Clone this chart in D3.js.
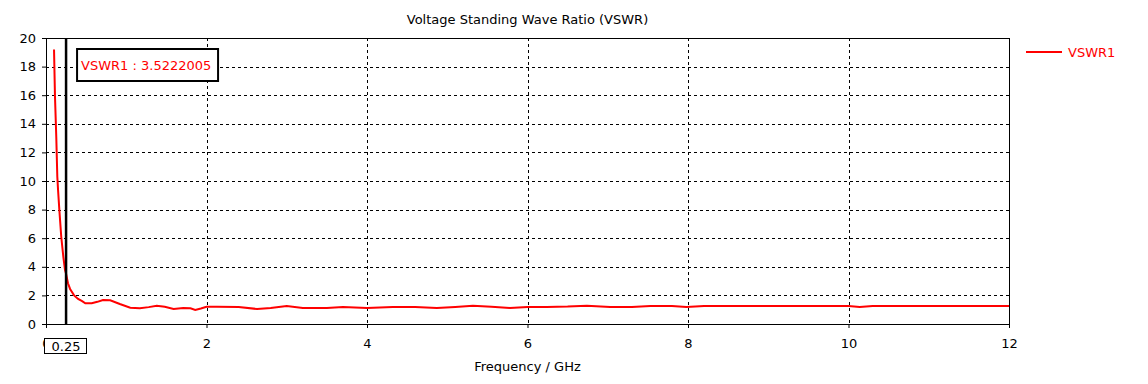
<!DOCTYPE html>
<html lang="en">
<head>
<meta charset="UTF-8">
<title>VSWR</title>
<script src="https://d3js.org/d3.v7.min.js"></script>
<style>
    body { margin: 0; background: #fff; font-family: "DejaVu Sans", sans-serif; }
    svg text { font-family: "DejaVu Sans", sans-serif; }
</style>
</head>
<body>
<div id="chart"></div>
<script>
// data
var freq = [0.1, 0.112, 0.128, 0.141, 0.15, 0.166, 0.19, 0.216, 0.237, 0.25, 0.274, 0.30, 0.35, 0.40, 0.45, 0.49, 0.57,
            0.64, 0.71, 0.80, 0.92, 1.05, 1.17, 1.28, 1.38, 1.48, 1.59, 1.71, 1.80, 1.86, 1.93, 2.0, 2.13, 2.4, 2.63,
            2.8, 3.0, 3.2, 3.5, 3.7, 4.0, 4.32, 4.6, 4.87, 5.1, 5.32, 5.55, 5.78, 6.0, 6.24, 6.5, 6.74, 7.03, 7.3,
            7.53, 7.8, 7.98, 8.2, 8.6, 9.0, 9.27, 9.7, 10.0, 10.14, 10.3, 10.6, 10.93, 11.3, 11.6, 12.0];
var vswr = [19.2, 15.9, 13.1, 10.3, 9.4, 8.0, 6.1, 4.7, 3.78, 3.5222005, 2.85, 2.45, 2.0, 1.75, 1.6, 1.45, 1.45,
            1.55, 1.68, 1.66, 1.40, 1.14, 1.10, 1.18, 1.28, 1.20, 1.05, 1.12, 1.10, 0.98, 1.08, 1.21, 1.21, 1.19, 1.05,
            1.12, 1.26, 1.12, 1.12, 1.19, 1.12, 1.19, 1.19, 1.12, 1.19, 1.28, 1.20, 1.12, 1.19, 1.19, 1.22, 1.28, 1.19, 1.19,
            1.26, 1.26, 1.19, 1.26, 1.26, 1.26, 1.26, 1.26, 1.26, 1.19, 1.26, 1.26, 1.26, 1.26, 1.26, 1.26];
var xTicks = [0, 2, 4, 6, 8, 10, 12];
var yTicks = [0, 2, 4, 6, 8, 10, 12, 14, 16, 18, 20];
var markerFreq = 0.25;
var markerLabel = "VSWR1 : 3.5222005";
var seriesName = "VSWR1";

var W = 1148, H = 384;
var margin = {top: 38, right: 139, bottom: 60, left: 46};
var width = W - margin.left - margin.right,
    height = H - margin.top - margin.bottom;

var svg = d3.select("#chart").append("svg")
    .attr("width", W).attr("height", H);

var g = svg.append("g")
    .attr("transform", "translate(" + margin.left + "," + margin.top + ")");

var x = d3.scaleLinear().domain([0, 12]).range([0, width]);
var y = d3.scaleLinear().domain([0, 20]).range([height, 0]);

// grid
g.append("g").selectAll("line").data(xTicks.slice(1, -1)).enter().append("line")
    .attr("x1", function(d) { return Math.round(x(d)) + 0.5; })
    .attr("x2", function(d) { return Math.round(x(d)) + 0.5; })
    .attr("y1", 0).attr("y2", height)
    .attr("stroke", "#000").attr("stroke-dasharray", "3,3");
g.append("g").selectAll("line").data(yTicks.slice(1, -1)).enter().append("line")
    .attr("y1", function(d) { return Math.round(y(d)) + 0.5; })
    .attr("y2", function(d) { return Math.round(y(d)) + 0.5; })
    .attr("x1", 0).attr("x2", width)
    .attr("stroke", "#000").attr("stroke-dasharray", "3,3");

// axes
var xAxis = g.append("g")
    .attr("transform", "translate(0," + height + ")")
    .call(d3.axisBottom(x).tickValues(xTicks).tickSize(4).tickPadding(11).tickFormat(d3.format("d")));
var yAxis = g.append("g")
    .call(d3.axisLeft(y).tickValues(yTicks).tickSize(4).tickPadding(6).tickFormat(d3.format("d")));
[xAxis, yAxis].forEach(function(a) {
    a.select(".domain").remove();
    a.selectAll("text").style("font-size", "13px").attr("fill", "#000");
    a.selectAll("line").attr("stroke", "#000");
});

// frame
g.append("rect")
    .attr("x", 0.5).attr("y", 0.5)
    .attr("width", width).attr("height", height)
    .attr("fill", "none").attr("stroke", "#000");

// curve
var line = d3.line()
    .x(function(d) { return x(d[0]); })
    .y(function(d) { return y(d[1]); });
g.append("path")
    .datum(freq.map(function(f, i) { return [f, vswr[i]]; }))
    .attr("d", line)
    .attr("fill", "none")
    .attr("stroke", "#ff0000")
    .attr("stroke-width", 2);

// marker
g.append("line")
    .attr("x1", x(markerFreq)).attr("x2", x(markerFreq))
    .attr("y1", 0).attr("y2", height)
    .attr("stroke", "#000").attr("stroke-width", 2.5);

var mx = x(markerFreq);
g.append("rect")
    .attr("x", mx + 11).attr("y", 11)
    .attr("width", 141).attr("height", 32)
    .attr("fill", "#fff").attr("stroke", "#000").attr("stroke-width", 2);
g.append("text")
    .attr("x", mx + 15).attr("y", 27)
    .attr("dominant-baseline", "central")
    .attr("fill", "#ff0000")
    .style("font-size", "13px")
    .text(markerLabel);

// marker label on x axis
g.append("rect")
    .attr("x", -1.5).attr("y", height + 14.5)
    .attr("width", 42).attr("height", 15)
    .attr("fill", "#fff").attr("stroke", "#000");
g.append("text")
    .attr("x", mx).attr("y", height + 22)
    .attr("text-anchor", "middle")
    .attr("dominant-baseline", "central")
    .style("font-size", "13px")
    .text(String(markerFreq));

// title and axis title
svg.append("text")
    .attr("x", margin.left + width / 2).attr("y", 19)
    .attr("text-anchor", "middle").attr("dominant-baseline", "central")
    .style("font-size", "13px")
    .text("Voltage Standing Wave Ratio (VSWR)");
svg.append("text")
    .attr("x", margin.left + width / 2).attr("y", 366)
    .attr("text-anchor", "middle").attr("dominant-baseline", "central")
    .style("font-size", "13px")
    .text("Frequency / GHz");

// legend
var lg = svg.append("g").attr("transform", "translate(1026,52)");
lg.append("line").attr("x1", 0).attr("x2", 36).attr("y1", 0).attr("y2", 0)
    .attr("stroke", "#ff0000").attr("stroke-width", 2);
lg.append("text").attr("x", 42).attr("y", 0)
    .attr("dominant-baseline", "central")
    .attr("fill", "#ff0000")
    .style("font-size", "13px")
    .text(seriesName);
</script>
</body>
</html>
